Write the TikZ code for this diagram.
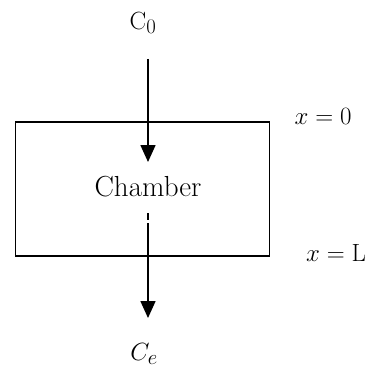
\documentclass[tikz,border=0pt]{standalone}
\usetikzlibrary{arrows.meta, positioning}
\tikzset{
	box/.style={draw, line width=1.6pt, minimum width=254pt, minimum height=134pt, inner sep=0pt},
	flow/.style={draw, line width=1.6pt, -{Triangle[length=17pt, width=15pt]}},
	tag/.style={inner sep=0pt}
}
\begin{document}
\begin{tikzpicture}[x=1pt, y=-1pt, font=\fontsize{25}{30}\selectfont]
	\useasboundingbox (0,0) rectangle (366,369);
	% Chamber
	\node[box] (box) at (142.5,189) {};
	\node[tag, font=\fontsize{29}{34}\selectfont] (name) at (148,187) {Chamber};
	% Inlet and outlet
	\node[tag, font=\fontsize{28}{32}\selectfont] (c0) at (143,23) {$\mathrm{C}_0$};
	\node[tag, font=\fontsize{28}{32}\selectfont] (ce) at (144,354) {$C_e$};
	% Positions
	\node[tag] (x0) at (323,116) {$x = 0$};
	\node[tag] (xl) at (336,253) {$x = \mathrm{L}$};
	% Flow
	\coordinate (in) at (148,59);
	\coordinate (intip) at (148,162);
	\coordinate (out) at (148,213);
	\coordinate (outtip) at (148,318);
	\draw[flow] (in) -- (intip);
	\draw[flow, dash pattern=on 7pt off 3pt on 400pt] (out) -- (outtip);
\end{tikzpicture}
\end{document}
